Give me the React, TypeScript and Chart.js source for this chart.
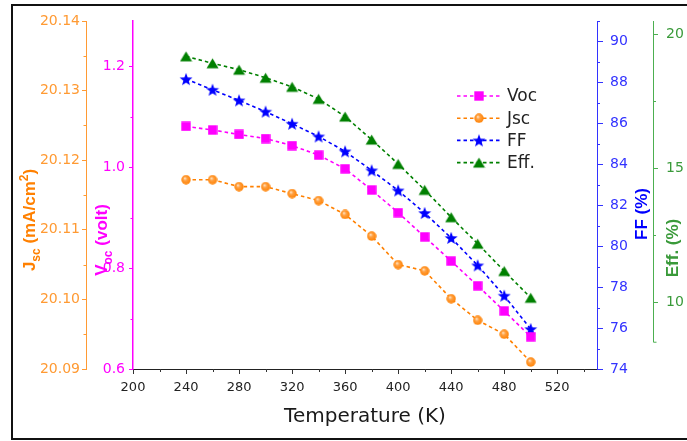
import React, { useEffect, useRef } from 'react';
import { Chart, registerables } from 'chart.js';

Chart.register(...registerables);

// ---------- data ----------
const TEMPERATURE = [240, 260, 280, 300, 320, 340, 360, 380, 400, 420, 440, 460, 480, 500];
const VOC = [1.081, 1.074, 1.065, 1.057, 1.043, 1.024, 0.997, 0.955, 0.91, 0.862, 0.814, 0.765, 0.715, 0.664];
const JSC = [20.1172, 20.1172, 20.1162, 20.1162, 20.1152, 20.1142, 20.1122, 20.1091, 20.105, 20.1041, 20.1001, 20.097, 20.095, 20.091];
const FF = [88.16, 87.64, 87.12, 86.57, 85.98, 85.36, 84.63, 83.7, 82.72, 81.62, 80.4, 79.06, 77.58, 75.95];
const EFF = [19.18, 18.92, 18.68, 18.38, 18.04, 17.59, 16.93, 16.07, 15.16, 14.19, 13.17, 12.18, 11.16, 10.16];

const SERIES_LABELS = ['Voc', 'Jsc', 'FF', 'Eff.'];

const X_TICKS = [200, 240, 280, 320, 360, 400, 440, 480, 520];
const X_MINOR = [220, 260, 300, 340, 380, 420, 460, 500, 540];
const JSC_TICKS = [20.09, 20.1, 20.11, 20.12, 20.13, 20.14];
const JSC_MINOR = [20.095, 20.105, 20.115, 20.125, 20.135];
const VOC_TICKS = [0.6, 0.8, 1.0, 1.2];
const VOC_MINOR = [0.7, 0.9, 1.1];
const FF_TICKS = [74, 76, 78, 80, 82, 84, 86, 88, 90];
const FF_MINOR = [75, 77, 79, 81, 83, 85, 87, 89, 91];
const EFF_TICKS = [10, 15, 20];
const EFF_MINOR = [12.5, 17.5];

const X_TITLE = 'Temperature (K)';
const JSC_TITLE = [{ t: 'J' }, { t: 'sc', sub: true }, { t: ' (mA/cm' }, { t: '2', sup: true }, { t: ')' }];
const VOC_TITLE = [{ t: 'V' }, { t: 'oc', sub: true }, { t: ' (volt)' }];
const FF_TITLE = [{ t: 'FF (%)' }];
const EFF_TITLE = [{ t: 'Eff. (%)' }];

// ---------- styling ----------
const FONT = '"DejaVu Sans", "Liberation Sans", sans-serif';
const TFONT = '"Liberation Sans", Arial, sans-serif';
const C_VOC = '#FF00FF';
const C_JSC = '#FF8000';
const C_JSC_AX = '#FF9A33';
const C_FF = '#0000FF';
const C_FF_AX = '#3333FF';
const C_EFF = '#008000';
const C_EFF_AX = '#4CAF50';
const C_EFF_LBL = '#3A9A3A';

function makeMarker(kind: string, color: string): HTMLCanvasElement {
  const size = kind === 'star' ? 14 : kind === 'triangle' ? 13 : 10;
  const c = document.createElement('canvas');
  c.width = size;
  c.height = size;
  const g = c.getContext('2d') as CanvasRenderingContext2D;
  const m = size / 2;
  g.fillStyle = color;
  if (kind === 'square') {
    g.fillRect(0.3, 0.3, size - 0.6, size - 0.6);
  } else if (kind === 'circle') {
    const grad = g.createRadialGradient(m - 1.2, m - 1.5, 0.3, m, m, m);
    grad.addColorStop(0, '#FFE2C0');
    grad.addColorStop(0.35, '#FFA040');
    grad.addColorStop(1, color);
    g.fillStyle = grad;
    g.beginPath();
    g.arc(m, m, m - 0.3, 0, Math.PI * 2);
    g.fill();
  } else if (kind === 'star') {
    const R = 6.8;
    const r = 2.8;
    g.beginPath();
    for (let i = 0; i < 10; i++) {
      const rad = i % 2 === 0 ? R : r;
      const a = -Math.PI / 2 + (i * Math.PI) / 5;
      const px = m + rad * Math.cos(a);
      const py = m + 0.6 + rad * Math.sin(a);
      if (i === 0) g.moveTo(px, py);
      else g.lineTo(px, py);
    }
    g.closePath();
    g.fill();
  } else if (kind === 'triangle') {
    g.beginPath();
    g.moveTo(m, 1.5);
    g.lineTo(size - 0.5, size - 1.5);
    g.lineTo(0.5, size - 1.5);
    g.closePath();
    g.fill();
  }
  return c;
}

type Seg = { t: string; sub?: boolean; sup?: boolean };

function drawRich(ctx: CanvasRenderingContext2D, segs: Seg[], cx: number, cy: number, size: number, color: string) {
  const small = Math.round(size * 0.7);
  ctx.save();
  ctx.translate(cx, cy);
  ctx.rotate(-Math.PI / 2);
  ctx.fillStyle = color;
  ctx.textBaseline = 'alphabetic';
  ctx.textAlign = 'left';
  let total = 0;
  const widths: number[] = [];
  for (const s of segs) {
    ctx.font = `bold ${s.sub || s.sup ? small : size}px ${TFONT}`;
    const w = ctx.measureText(s.t).width;
    widths.push(w);
    total += w;
  }
  let x = -total / 2;
  const base = size * 0.36;
  segs.forEach((s, i) => {
    ctx.font = `bold ${s.sub || s.sup ? small : size}px ${TFONT}`;
    const dy = s.sub ? size * 0.28 : s.sup ? -size * 0.42 : 0;
    ctx.fillText(s.t, x, base + dy);
    x += widths[i];
  });
  ctx.restore();
}

const decorPlugin = {
  id: 'decor',
  afterDraw(chart: any) {
    const ctx: CanvasRenderingContext2D = chart.ctx;
    const s = chart.scales;
    // minor ticks
    const minor = (scale: any, vals: number[], side: string, color: string, len: number) => {
      ctx.save();
      ctx.strokeStyle = color;
      ctx.lineWidth = 1;
      ctx.beginPath();
      for (const v of vals) {
        const p = Math.round(scale.getPixelForValue(v)) + 0.5;
        if (side === 'left') {
          const x0 = scale.right;
          ctx.moveTo(x0, p);
          ctx.lineTo(x0 - len, p);
        } else if (side === 'right') {
          const x0 = scale.left;
          ctx.moveTo(x0, p);
          ctx.lineTo(x0 + len, p);
        } else {
          const y0 = scale.top;
          ctx.moveTo(p, y0);
          ctx.lineTo(p, y0 + len);
        }
      }
      ctx.stroke();
      ctx.restore();
    };
    minor(s.x, X_MINOR, 'bottom', '#333', 3);
    minor(s.yJsc, JSC_MINOR, 'left', C_JSC_AX, 2.5);
    minor(s.yVoc, VOC_MINOR, 'left', C_VOC, 2.5);
    minor(s.yFF, FF_MINOR, 'right', C_FF_AX, 3);
    minor(s.yEff, EFF_MINOR, 'right', C_EFF_AX, 3);

    // Eff axis line (shorter than plot height)
    ctx.save();
    ctx.strokeStyle = C_EFF_AX;
    ctx.lineWidth = 1;
    ctx.beginPath();
    const ex = Math.round(s.yEff.left) + 0.5;
    ctx.moveTo(ex, s.yEff.getPixelForValue(20.5));
    ctx.lineTo(ex, s.yEff.getPixelForValue(8.5));
    ctx.lineTo(ex + 3, s.yEff.getPixelForValue(8.5));
    ctx.stroke();
    ctx.restore();

    // axis titles
    drawRich(ctx, JSC_TITLE, 29, 220, 17, C_JSC);
    drawRich(ctx, VOC_TITLE, 101, 240, 17, C_VOC);
    drawRich(ctx, FF_TITLE, 641, 214, 17, C_FF);
    drawRich(ctx, EFF_TITLE, 672, 248, 17, C_EFF_LBL);

    // legend
    const lx = 457;
    let ly = 96;
    ctx.save();
    for (const ds of chart.data.datasets) {
      ctx.strokeStyle = ds.borderColor;
      ctx.lineWidth = 1.6;
      ctx.setLineDash(ds.borderDash || []);
      ctx.beginPath();
      ctx.moveTo(lx, ly);
      ctx.lineTo(lx + 44, ly);
      ctx.stroke();
      ctx.setLineDash([]);
      const img: HTMLCanvasElement = ds.pointStyle;
      ctx.drawImage(img, lx + 22 - img.width / 2, ly - img.height / 2);
      ctx.fillStyle = '#222';
      ctx.font = `17px ${FONT}`;
      ctx.textBaseline = 'middle';
      ctx.textAlign = 'left';
      ctx.fillText(ds.label, lx + 50, ly + 1);
      ly += 22.2;
    }
    ctx.restore();

    // outer frame
    ctx.save();
    ctx.strokeStyle = '#111';
    ctx.lineWidth = 2;
    ctx.beginPath();
    ctx.moveTo(700, 5);
    ctx.lineTo(12, 5);
    ctx.lineTo(12, 439);
    ctx.lineTo(700, 439);
    ctx.stroke();
    ctx.restore();
  },
};

export default function App() {
  const ref = useRef<HTMLCanvasElement | null>(null);

  useEffect(() => {
    if (!ref.current) return;
    const mk = (arr: number[]) => TEMPERATURE.map((t, i) => ({ x: t, y: arr[i] }));
    const dash = [3.5, 3];
    const chart = new Chart(ref.current, {
      type: 'line',
      data: {
        datasets: [
          {
            label: SERIES_LABELS[0], data: mk(VOC), yAxisID: 'yVoc', borderColor: C_VOC, backgroundColor: C_VOC,
            borderDash: dash, borderWidth: 1.6, pointStyle: makeMarker('square', C_VOC) as any, pointRadius: 5,
          },
          {
            label: SERIES_LABELS[1], data: mk(JSC), yAxisID: 'yJsc', borderColor: C_JSC, backgroundColor: C_JSC,
            borderDash: dash, borderWidth: 1.6, pointStyle: makeMarker('circle', C_JSC) as any, pointRadius: 5,
          },
          {
            label: SERIES_LABELS[2], data: mk(FF), yAxisID: 'yFF', borderColor: C_FF, backgroundColor: C_FF,
            borderDash: dash, borderWidth: 1.6, pointStyle: makeMarker('star', C_FF) as any, pointRadius: 6,
          },
          {
            label: SERIES_LABELS[3], data: mk(EFF), yAxisID: 'yEff', borderColor: C_EFF, backgroundColor: C_EFF,
            borderDash: dash, borderWidth: 1.6, pointStyle: makeMarker('triangle', C_EFF) as any, pointRadius: 6,
          },
        ] as any,
      },
      options: {
        animation: false,
        responsive: false,
        maintainAspectRatio: false,
        layout: { padding: { left: 12, top: 21, right: 0, bottom: 0 } },
        plugins: { legend: { display: false }, tooltip: { enabled: false } },
        scales: {
          x: {
            type: 'linear', position: 'bottom', min: 200, max: 550,
            afterBuildTicks: (sc: any) => { sc.ticks = X_TICKS.map((v) => ({ value: v })); },
            afterFit: (sc: any) => { sc.height = 72; },
            ticks: { color: '#222', font: { family: FONT, size: 13 }, padding: 6, callback: (v: any) => String(v) },
            grid: { drawOnChartArea: false, tickLength: 5, tickColor: '#333' },
            border: { color: '#222', width: 1 },
            title: { display: true, text: X_TITLE, color: '#1a1a1a', font: { family: FONT, size: 20 }, padding: { top: 0, bottom: 12 } },
          },
          yJsc: {
            type: 'linear', position: 'left', weight: 2, min: 20.09, max: 20.14,
            afterBuildTicks: (sc: any) => { sc.ticks = JSC_TICKS.map((v) => ({ value: v })); },
            afterFit: (sc: any) => { sc.width = 74; },
            ticks: { color: C_JSC_AX, font: { family: FONT, size: 14 }, padding: 2, callback: (v: any) => Number(v).toFixed(2) },
            grid: { drawOnChartArea: false, tickLength: 4, tickColor: C_JSC_AX },
            border: { color: C_JSC_AX, width: 1 },
          },
          yVoc: {
            type: 'linear', position: 'left', weight: 1, min: 0.6, max: 1.29,
            afterBuildTicks: (sc: any) => { sc.ticks = VOC_TICKS.map((v) => ({ value: v })); },
            afterFit: (sc: any) => { sc.width = 47; },
            ticks: { color: C_VOC, font: { family: FONT, size: 14 }, padding: 4, callback: (v: any) => Number(v).toFixed(1) },
            grid: { drawOnChartArea: false, tickLength: 4, tickColor: C_VOC },
            border: { color: C_VOC, width: 1.5 },
          },
          yFF: {
            type: 'linear', position: 'right', weight: 1, min: 74, max: 91,
            afterBuildTicks: (sc: any) => { sc.ticks = FF_TICKS.map((v) => ({ value: v })); },
            afterFit: (sc: any) => { sc.width = 56; },
            ticks: { color: C_FF_AX, font: { family: FONT, size: 14 }, padding: 7, callback: (v: any) => String(v) },
            grid: { drawOnChartArea: false, tickLength: 6, tickColor: C_FF_AX },
            border: { color: C_FF_AX, width: 1 },
          },
          yEff: {
            type: 'linear', position: 'right', weight: 2, min: 7.5, max: 20.5,
            afterBuildTicks: (sc: any) => { sc.ticks = EFF_TICKS.map((v) => ({ value: v })); },
            afterFit: (sc: any) => { sc.width = 34; },
            ticks: { color: C_EFF_LBL, font: { family: FONT, size: 14 }, padding: 8, callback: (v: any) => String(v) },
            grid: { drawOnChartArea: false, tickLength: 5, tickColor: C_EFF_AX },
            border: { display: false },
          },
        },
      } as any,
      plugins: [decorPlugin],
    });
    return () => chart.destroy();
  }, []);

  return (
    <div style={{ position: 'fixed', left: 0, top: 0, width: 687, height: 441, background: '#fff' }}>
      <canvas ref={ref} width={687} height={441} style={{ width: 687, height: 441, display: 'block' }} />
    </div>
  );
}
